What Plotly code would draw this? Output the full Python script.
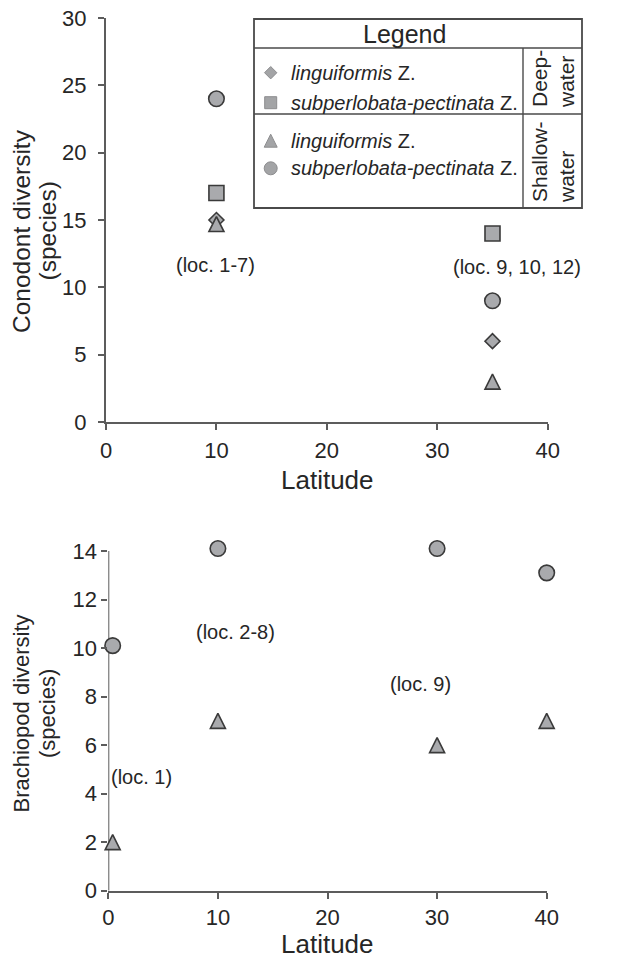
import plotly.graph_objects as go

W, H = 619, 960
OFF = 8  # page body margin: figure is drawn 8 px right/down of the window origin

# ---------------- data ----------------
# Conodont diversity (top panel)
con_lat = [10, 35]
con_deep_ling = [15, 6]        # diamond
con_deep_subp = [17, 14]       # square
con_shal_ling = [14.7, 3]      # triangle
con_shal_subp = [24, 9]        # circle

# Brachiopod diversity (bottom panel)
bra_lat = [0.4, 10, 30, 40]
bra_shal_ling = [2, 7, 6, 7]              # triangle
bra_shal_subp = [10.1, 14.1, 14.1, 13.1]  # circle

x_ticks = [0, 10, 20, 30, 40]
con_y_ticks = [0, 5, 10, 15, 20, 25, 30]
bra_y_ticks = [0, 2, 4, 6, 8, 10, 12, 14]

con_loc_text = ["(loc. 1-7)", "(loc. 9, 10, 12)"]
con_loc_x = [9.9, 37.2]
con_loc_y = [11.65, 11.5]

bra_loc_text = ["(loc. 1)", "(loc. 2-8)", "(loc. 9)", "(loc. 10-12)"]
bra_loc_x = [3.0, 11.6, 28.5, 41.9]
bra_loc_y = [4.7, 10.67, 8.53, 6.3]

legend_rows = [
    ("<i>linguiformis</i> Z.", "diamond"),
    ("<i>subperlobata-pectinata</i> Z.", "square"),
    ("<i>linguiformis</i> Z.", "triangle"),
    ("<i>subperlobata-pectinata</i> Z.", "circle"),
]

# ---------------- styles ----------------
FONT = "Liberation Sans, Arial, Helvetica, sans-serif"
TXT = "#262626"
AX = "#5c5c5c"
FILL = "#a9aaad"
EDGE = "#3a3a3a"

def px_x(p):
    return (p - OFF) / W

def px_y(p):
    return 1 - (p - OFF) / H

def mk(symbol, size):
    if symbol == "triangle":
        # upright, equilateral-looking triangle centred on the point
        return dict(symbol="arrow-down", angle=180, standoff=size / 2, size=size,
                    color=FILL, line=dict(color=EDGE, width=1.6))
    return dict(symbol=symbol, size=size, color=FILL,
                line=dict(color=EDGE, width=1.6))

fig = go.Figure()

# top panel traces
fig.add_trace(go.Scatter(x=con_lat, y=con_deep_ling, mode="markers",
                         marker=mk("diamond", 11.5), cliponaxis=False,
                         xaxis="x", yaxis="y", showlegend=False))
fig.add_trace(go.Scatter(x=con_lat, y=con_deep_subp, mode="markers",
                         marker=mk("square", 15), cliponaxis=False,
                         xaxis="x", yaxis="y", showlegend=False))
fig.add_trace(go.Scatter(x=con_lat, y=con_shal_subp, mode="markers",
                         marker=mk("circle", 15.5), cliponaxis=False,
                         xaxis="x", yaxis="y", showlegend=False))
fig.add_trace(go.Scatter(x=con_lat, y=con_shal_ling, mode="markers",
                         marker=mk("triangle", 15), cliponaxis=False,
                         xaxis="x", yaxis="y", showlegend=False))

# bottom panel traces
fig.add_trace(go.Scatter(x=bra_lat, y=bra_shal_subp, mode="markers",
                         marker=mk("circle", 15.5), cliponaxis=False,
                         xaxis="x2", yaxis="y2", showlegend=False))
fig.add_trace(go.Scatter(x=bra_lat, y=bra_shal_ling, mode="markers",
                         marker=mk("triangle", 15), cliponaxis=False,
                         xaxis="x2", yaxis="y2", showlegend=False))

# legend (pixel overlay axes x3/y3, in window pixels)
LEG_L, LEG_R, LEG_T, LEG_B = 254, 582, 19, 208
LEG_TITLE_B, LEG_MID, LEG_COL = 48, 114, 523
leg_row_y = [72.7, 102.7, 140.7, 168.3]
leg_mk_x = 270.7
leg_sizes = {"diamond": 9.5, "square": 12, "triangle": 13, "circle": 13}
for (label, sym), yy in zip(legend_rows, leg_row_y):
    m = mk(sym, leg_sizes[sym])
    m["color"] = "#a3a4a6"
    m["line"] = dict(color="#8d8d8f", width=1)
    fig.add_trace(go.Scatter(
        x=[leg_mk_x], y=[yy], mode="markers", cliponaxis=False, marker=m,
        xaxis="x3", yaxis="y3", showlegend=False, hoverinfo="skip"))
    fig.add_annotation(x=289, y=yy, xref="x3", yref="y3", text=label,
                       showarrow=False, xanchor="left", yanchor="middle",
                       font=dict(family=FONT, size=20, color=TXT))

shapes = []
shapes.append(dict(type="rect", xref="x3", yref="y3", x0=LEG_L, x1=LEG_R,
                   y0=LEG_T, y1=LEG_B, line=dict(color="#4a4a4a", width=1.8),
                   fillcolor="white", layer="below"))
for y0 in (LEG_TITLE_B, LEG_MID):
    shapes.append(dict(type="line", xref="x3", yref="y3", x0=LEG_L, x1=LEG_R,
                       y0=y0, y1=y0, line=dict(color="#4a4a4a", width=1.4)))
shapes.append(dict(type="line", xref="x3", yref="y3", x0=LEG_COL, x1=LEG_COL,
                   y0=LEG_TITLE_B, y1=LEG_B, line=dict(color="#4a4a4a", width=1.4)))
# bottom panel y-axis line (drawn only from 0 to 14)
shapes.append(dict(type="line", xref="x2", yref="y2", x0=0, x1=0,
                   y0=bra_y_ticks[0], y1=bra_y_ticks[-1],
                   line=dict(color=AX, width=2), layer="below"))

fig.add_annotation(x=404, y=33.5, xref="x3", yref="y3", text="Legend",
                   showarrow=False, xanchor="center", yanchor="middle",
                   font=dict(family=FONT, size=25, color=TXT))
fig.add_annotation(x=553, y=110, xref="x3", yref="y3", text="Deep-<br>water",
                   showarrow=False, textangle=-90, align="left",
                   xanchor="center", yanchor="bottom",
                   font=dict(family=FONT, size=21, color=TXT))
fig.add_annotation(x=553, y=205, xref="x3", yref="y3", text="Shallow-<br>water",
                   showarrow=False, textangle=-90, align="left",
                   xanchor="center", yanchor="bottom",
                   font=dict(family=FONT, size=21, color=TXT))

# location labels
for t, xx, yy in zip(con_loc_text, con_loc_x, con_loc_y):
    fig.add_annotation(x=xx, y=yy, xref="x", yref="y", text=t, showarrow=False,
                       xanchor="center", yanchor="middle",
                       font=dict(family=FONT, size=20, color=TXT))
for t, xx, yy in zip(bra_loc_text, bra_loc_x, bra_loc_y):
    fig.add_annotation(x=xx, y=yy, xref="x2", yref="y2", text=t, showarrow=False,
                       xanchor="center", yanchor="middle",
                       font=dict(family=FONT, size=20, color=TXT))

# axis titles (two tightly spaced lines each)
for txt, xx, yy, fs in [("Conodont diversity", 21, 231, 24.5),
                        ("(species)", 46.5, 231, 24.5),
                        ("Brachiopod diversity", 20.5, 714, 22),
                        ("(species)", 47, 714, 22)]:
    fig.add_annotation(x=xx, y=yy, xref="x3", yref="y3", text=txt,
                       showarrow=False, textangle=-90, xanchor="center",
                       yanchor="middle", font=dict(family=FONT, size=fs, color=TXT))
fig.add_annotation(x=327, y=480, xref="x3", yref="y3", text="Latitude",
                   showarrow=False, xanchor="center", yanchor="middle",
                   font=dict(family=FONT, size=26, color=TXT))
fig.add_annotation(x=327, y=944, xref="x3", yref="y3", text="Latitude",
                   showarrow=False, xanchor="center", yanchor="middle",
                   font=dict(family=FONT, size=26, color=TXT))

axis_common = dict(linecolor=AX, linewidth=2, ticks="outside", automargin=False,
                   ticklen=6, tickwidth=2, tickcolor=AX, showgrid=False,
                   zeroline=False, ticklabeloverflow="allow",
                   tickfont=dict(family=FONT, size=22, color=TXT))

# bottom y: 14 at px 551, 0 at px 890.7; range extended slightly so that the
# 14.1 circles are not hidden
bra_top = 14.6
bra_ppu = (890.7 - 551) / 14
bra_top_px = 551 - (bra_top - 14) * bra_ppu

fig.update_layout(
    template="none",
    width=W, height=H, margin=dict(l=0, r=0, t=0, b=0, pad=0, autoexpand=False),
    paper_bgcolor="white", plot_bgcolor="rgba(0,0,0,0)",
    shapes=shapes, showlegend=False,
    xaxis=dict(domain=[px_x(106), px_x(547.7)], range=[0, 40], tickvals=x_ticks,
               anchor="y", showline=True, ticklabelstandoff=2, **axis_common),
    yaxis=dict(domain=[px_y(422), px_y(18)], range=[0, 30], tickvals=con_y_ticks,
               anchor="x", showline=True, ticklabelstandoff=7, **axis_common),
    xaxis2=dict(domain=[px_x(108.3), px_x(546.7)], range=[0, 40], tickvals=x_ticks,
                anchor="y2", showline=True, ticklabelstandoff=0, **axis_common),
    yaxis2=dict(domain=[px_y(890.7), px_y(bra_top_px)], range=[0, bra_top],
                tickvals=bra_y_ticks, anchor="x2", showline=False,
                ticklabelstandoff=0, **axis_common),
    xaxis3=dict(domain=[0, 1], range=[OFF, W + OFF], visible=False, anchor="y3",
                fixedrange=True, automargin=False),
    yaxis3=dict(domain=[0, 1], range=[H + OFF, OFF], visible=False, anchor="x3",
                fixedrange=True, automargin=False),
)

fig.write_html("out.html")
